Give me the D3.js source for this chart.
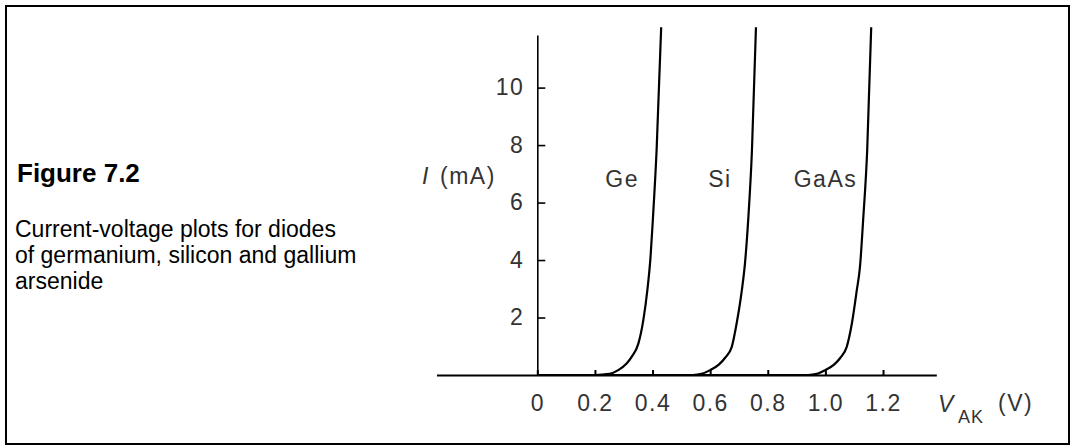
<!DOCTYPE html>
<html>
<head>
<meta charset="utf-8">
<script src="https://cdn.jsdelivr.net/npm/d3@7"></script>
<style>
  html, body { margin: 0; padding: 0; background: #fff; }
  svg { display: block; }
  text { font-family: "Liberation Sans", Arial, sans-serif; }
</style>
</head>
<body>
<svg id="chart" width="1071" height="446"></svg>
<script>
// ---- data ----
const seriesNames = ["Ge", "Si", "GaAs"];
const geV   = [0.00, 0.20, 0.25, 0.281, 0.31, 0.328, 0.351, 0.368, 0.382, 0.393, 0.401, 0.414, 0.430];
const geI   = [0.00, 0.00, 0.04, 0.17,  0.40, 0.64,  1.10,  1.91,  2.95,  4.10,  5.39,  7.80,  12.1];
const siV   = [0.20, 0.54, 0.57, 0.600, 0.63, 0.652, 0.675, 0.692, 0.710, 0.721, 0.732, 0.745, 0.759];
const siI   = [0.00, 0.00, 0.04, 0.17,  0.36, 0.60,  0.98,  1.80,  2.95,  3.90,  5.39,  7.80,  12.1];
const gaV   = [0.55, 0.94, 0.97, 0.999, 1.03, 1.052, 1.074, 1.092, 1.109, 1.120, 1.131, 1.145, 1.159];
const gaI   = [0.00, 0.00, 0.04, 0.17,  0.36, 0.60,  0.98,  1.80,  2.95,  3.76,  5.39,  7.80,  12.1];
const xTickValues = [0, 0.2, 0.4, 0.6, 0.8, 1.0, 1.2];
const xTickLabels = ["0", "0.2", "0.4", "0.6", "0.8", "1.0", "1.2"];
const yTickValues = [2, 4, 6, 8, 10];
const yTickLabels = ["2", "4", "6", "8", "10"];
const captionTitle = "Figure 7.2";
const captionLines = ["Current-voltage plots for diodes", "of germanium, silicon and gallium", "arsenide"];

// ---- layout ----
const svg = d3.select("#chart");
const x0 = 537.3, pxPerV = 288.1;
const xMin = -0.35, xMax = 1.385;
const x = d3.scaleLinear().domain([xMin, xMax]).range([x0 + xMin * pxPerV, x0 + xMax * pxPerV]);
const yTop = 11.83;
const y = d3.scaleLinear().domain([0, yTop]).range([375, 35]);

const tickFont = 23;
const ink = "#333";

// frame
svg.append("rect")
  .attr("x", 6).attr("y", 6).attr("width", 1063).attr("height", 438)
  .attr("fill", "none").attr("stroke", "#000").attr("stroke-width", 2);

// caption
svg.append("text").attr("x", 17).attr("y", 182)
  .attr("font-size", 26).attr("font-weight", "bold").attr("fill", "#000")
  .text(captionTitle);
const cap = svg.append("text").attr("font-size", 23).attr("fill", "#000");
captionLines.forEach((t, i) => {
  cap.append("tspan").attr("x", 15).attr("y", 237 + i * 26).text(t);
});

// x axis
const xAxis = d3.axisBottom(x)
  .tickValues(xTickValues)
  .tickFormat((d, i) => xTickLabels[i])
  .tickSizeInner(-5).tickSizeOuter(0).tickPadding(19.7);
const gx = svg.append("g").attr("transform", `translate(0,${y(0)})`).call(xAxis);
gx.select(".domain").attr("stroke", "#000").attr("stroke-width", 2);
gx.selectAll(".tick line").attr("stroke", "#000").attr("stroke-width", 2);
gx.selectAll(".tick text").attr("font-size", tickFont).attr("fill", ink)
  .attr("font-family", "Liberation Sans, Arial, sans-serif")
  .attr("letter-spacing", "1.5px");

// y axis
const yAxis = d3.axisLeft(y)
  .tickValues(yTickValues)
  .tickFormat((d, i) => yTickLabels[i])
  .tickSizeInner(-8).tickSizeOuter(0).tickPadding(13);
const gy = svg.append("g").attr("transform", `translate(${x(0)},0)`).call(yAxis);
gy.select(".domain").attr("stroke", "#000").attr("stroke-width", 1.6);
gy.selectAll(".tick line").attr("stroke", "#000").attr("stroke-width", 1.6);
gy.selectAll(".tick text").attr("font-size", tickFont).attr("fill", ink)
  .attr("font-family", "Liberation Sans, Arial, sans-serif")
  .attr("letter-spacing", "1.5px");

// axis titles
svg.append("text").attr("x", 422).attr("y", 184)
  .attr("font-size", tickFont).attr("font-style", "italic").attr("fill", ink).text("I");
svg.append("text").attr("x", 440).attr("y", 184)
  .attr("font-size", tickFont).attr("fill", ink).attr("letter-spacing", "1.5px").text("(mA)");

svg.append("text").attr("x", 938).attr("y", 412)
  .attr("font-size", tickFont).attr("font-style", "italic").attr("fill", ink).text("V");
svg.append("text").attr("x", 958).attr("y", 423)
  .attr("font-size", 18).attr("fill", ink).attr("letter-spacing", "1px").text("AK");
svg.append("text").attr("x", 998).attr("y", 411)
  .attr("font-size", tickFont).attr("fill", ink).attr("letter-spacing", "1.5px").text("(V)");

// curves
const series = [
  { name: seriesNames[0], v: geV, i: geI },
  { name: seriesNames[1], v: siV, i: siI },
  { name: seriesNames[2], v: gaV, i: gaI }
];
const line = d3.line()
  .x(d => x(d[0]))
  .y(d => y(d[1]))
  .curve(d3.curveMonotoneX);
svg.append("defs").append("clipPath").attr("id", "clip")
  .append("rect").attr("x", 0).attr("y", 27).attr("width", 1071).attr("height", 400);
svg.append("g").attr("clip-path", "url(#clip)")
  .selectAll("path.curve").data(series).join("path")
  .attr("class", "curve")
  .attr("d", s => line(s.v.map((v, k) => [v, s.i[k]])))
  .attr("fill", "none").attr("stroke", "#000").attr("stroke-width", 2.2);

// curve labels (placed to the left of each curve)
const labelPos = [ { v: 0.236 }, { v: 0.593 }, { v: 0.89 } ];
svg.selectAll("text.slabel").data(series).join("text")
  .attr("class", "slabel")
  .attr("x", (s, k) => x(labelPos[k].v))
  .attr("y", 187)
  .attr("font-size", tickFont).attr("fill", ink).attr("letter-spacing", "1.5px")
  .text(s => s.name);
</script>
</body>
</html>
